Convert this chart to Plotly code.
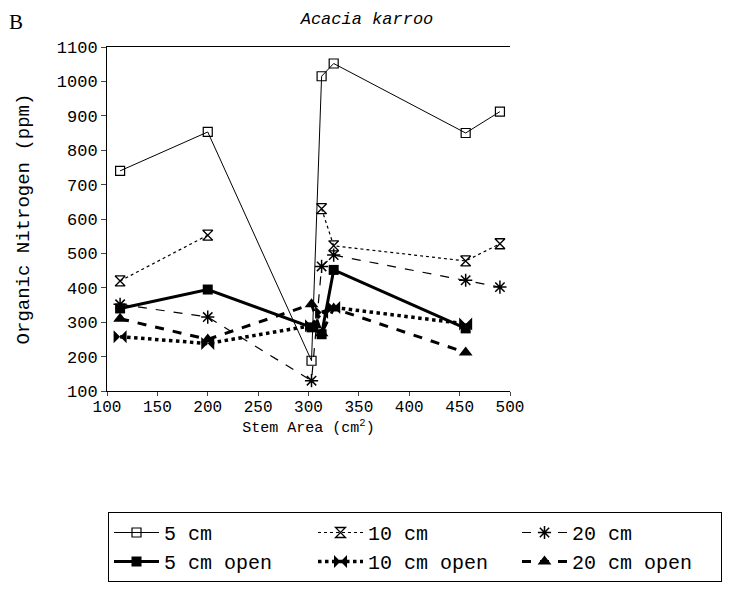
import plotly.graph_objects as go

stem_area = [113, 200, 303, 313, 325, 456, 490]

n5 = [740, 853, 188, 1015, 1052, 850, 912]
n10 = [420, 553, None, 630, 522, 478, 528]
n20 = [352, 315, 130, 462, 495, 422, 402]
n5_open = [340, 395, 285, 265, 452, 282, None]
n10_open = [258, 238, 290, 328, 343, 295, None]
n20_open = [310, 250, 352, 268, 340, 212, None]

series_names = ["5 cm", "10 cm", "20 cm", "5 cm open", "10 cm open", "20 cm open"]

MONO = "Courier New, Liberation Mono, monospace"

styles = [
    dict(line=dict(color="black", width=1, dash="solid"),
         marker=dict(symbol="square-open", size=9, color="black", line=dict(width=1.2))),
    dict(line=dict(color="black", width=1.2, dash="dot"),
         marker=dict(symbol="hourglass-open", size=10, color="black", line=dict(width=1.3))),
    dict(line=dict(color="black", width=1.2, dash="dash"),
         marker=dict(symbol="asterisk-open", size=11, color="black", line=dict(width=1.5))),
    dict(line=dict(color="black", width=3, dash="solid"),
         marker=dict(symbol="square", size=10, color="black")),
    dict(line=dict(color="black", width=3.5, dash="dot"),
         marker=dict(symbol="bowtie", size=13, color="black")),
    dict(line=dict(color="black", width=3, dash="dash"),
         marker=dict(symbol="triangle-up", size=12, color="black")),
]

data = [n5, n10, n20, n5_open, n10_open, n20_open]

fig = go.Figure()
for name, y, st in zip(series_names, data, styles):
    fig.add_trace(go.Scatter(x=stem_area, y=y, name=name, mode="lines+markers",
                             connectgaps=False, **st))

PW, PH = 403, 344

fig.update_layout(
    width=730, height=597,
    margin=dict(l=107, r=220, t=47, b=206, autoexpand=False),
    paper_bgcolor="white", plot_bgcolor="white",
    font=dict(family=MONO, color="black", size=16),
    title=dict(text="<i>Acacia karroo</i>", font=dict(family=MONO, size=17, color="black"),
               x=(367) / 730, xanchor="center", y=1 - 18 / 597, yanchor="middle"),
    legend=dict(orientation="h", x=(722 - 107) / PW, xanchor="right", y=-(512 - 391) / PH, yanchor="top",
                bordercolor="black", borderwidth=1, bgcolor="white",
                font=dict(family=MONO, size=20, color="black"),
                entrywidth=144, entrywidthmode="pixels", tracegroupgap=0,
                itemwidth=45),
    annotations=[dict(text="B", xref="paper", yref="paper", x=-100 / PW, y=1 + 25 / PH,
                      xanchor="left", yanchor="middle", showarrow=False,
                      font=dict(family="Liberation Serif, serif", size=21, color="black"))],
)

fig.update_xaxes(range=[100, 500], tick0=100, dtick=50, ticks="outside", ticklen=4,
                 showline=True, linecolor="black", linewidth=1, mirror=True,
                 showgrid=False, zeroline=False, ticklabelstandoff=-3,
                 tickfont=dict(family=MONO, size=16),
                 title=dict(text="Stem Area (cm<sup>2</sup>)", font=dict(family=MONO, size=15), standoff=2))
fig.update_yaxes(range=[100, 1100], tick0=100, dtick=100, ticks="outside", ticklen=5,
                 showline=True, linecolor="black", linewidth=1,
                 showgrid=False, zeroline=False,
                 tickfont=dict(family=MONO, size=17),
                 title=dict(text="Organic Nitrogen (ppm)", font=dict(family=MONO, size=19), standoff=22))

fig.write_html("out.html")
